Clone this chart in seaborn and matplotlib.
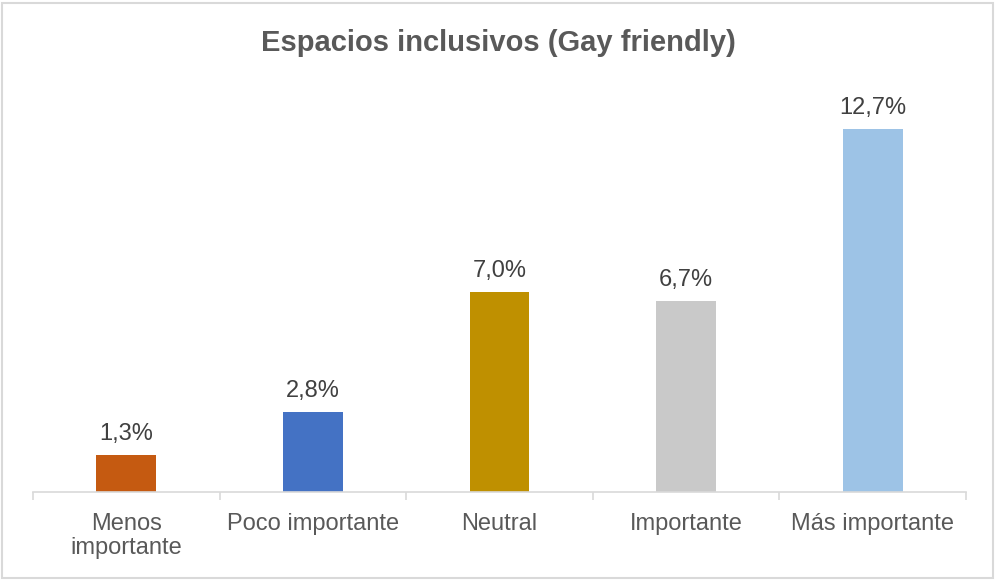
import matplotlib
matplotlib.use("Agg")
import matplotlib.pyplot as plt
import seaborn as sns
import pandas as pd
import numpy as np
from matplotlib.patches import Rectangle

categories = ["Menos\nimportante", "Poco importante", "Neutral", "Importante", "Más importante"]
values = [1.3, 2.8, 7.0, 6.7, 12.7]
labels = ["1,3%", "2,8%", "7,0%", "6,7%", "12,7%"]
colors = ["#C55A11", "#4472C4", "#BF9000", "#C9C9C9", "#9DC3E6"]
title = "Espacios inclusivos (Gay friendly)"

sns.set_theme(style="white")
plt.rcParams['font.family'] = ['Liberation Sans', 'DejaVu Sans']

df = pd.DataFrame({"cat": categories, "val": values})

fig = plt.figure(figsize=(9.97, 5.81), dpi=100)
ax = fig.add_axes([33/997, 89/581, (966-33)/997, (492-100)/581])
sns.barplot(data=df, x="cat", y="val", hue="cat", palette=colors, width=0.32,
            legend=False, ax=ax, saturation=1, linewidth=0)
ax.set_xlim(-0.5, 4.5)
ax.set_ylim(0, (492-100)/28.58)

for i, (v, lab) in enumerate(zip(values, labels)):
    ax.annotate(lab, (i, v), xytext=(0, 7), textcoords="offset points",
                ha="center", va="bottom", fontsize=17, color="#404040")

for s in ["top", "right", "left"]:
    ax.spines[s].set_visible(False)
ax.spines["bottom"].set_color("#D9D9D9")
ax.spines["bottom"].set_linewidth(1.2)
ax.set_yticks([])
ax.set_xlabel("")
ax.set_ylabel("")
ax.set_xticks(np.arange(-0.5, 5.0, 1.0), minor=True)
ax.tick_params(axis="x", which="minor", length=6, width=1.2, color="#D9D9D9", bottom=True)
ax.tick_params(axis="x", which="major", length=0, pad=15, labelsize=17, labelcolor="#595959")
for t in ax.get_xticklabels():
    t.set_linespacing(1.15)
    t.set_va("top")

fig.text(0.5, 1 - 43/581, title, ha="center", va="center", fontsize=21,
         fontweight="bold", color="#595959")

fig.patches.append(Rectangle((2/997, 3/581), 991/997, 575/581, transform=fig.transFigure,
                             fill=False, edgecolor="#D9D9D9", linewidth=1.5))

fig.savefig("out.png", dpi=100)
